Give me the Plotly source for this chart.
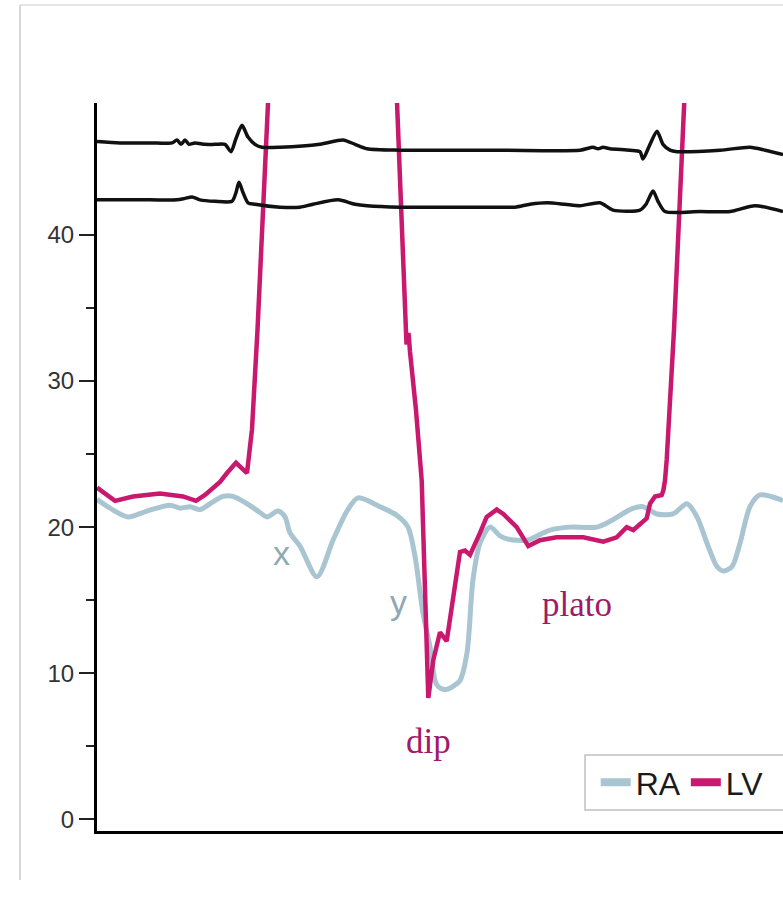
import plotly.graph_objects as go

# ---- data (time in arbitrary units, pressure in mmHg) ----
ra_t = [0, 13, 31, 50, 73, 83, 93, 103, 113, 126, 136, 150, 163, 170, 181, 188, 193, 203,
        220, 236, 250, 261, 283, 300, 311, 318, 326, 333, 338, 341, 346, 350, 360, 363, 370,
        376, 383, 393, 403, 410, 420, 430, 453, 473, 500, 516, 533, 546, 560, 576, 590, 600,
        610, 620, 626, 635, 643, 653, 663, 683, 686]
ra_p = [21.9, 21.3, 20.7, 21.1, 21.5, 21.3, 21.4, 21.2, 21.6, 22.1, 22.1, 21.6, 21.0, 20.7,
        21.1, 20.7, 19.6, 18.7, 16.6, 19.1, 21.1, 22.0, 21.4, 20.8, 20.0, 18.0, 14.1, 11.8,
        9.5, 9.1, 8.9, 8.9, 9.3, 9.5, 11.4, 16.4, 18.9, 20.0, 19.4, 19.2, 19.1, 19.1, 19.8,
        20.0, 20.0, 20.5, 21.2, 21.4, 20.9, 20.9, 21.6, 20.7, 18.9, 17.3, 17.0, 17.3, 18.9,
        21.4, 22.2, 21.9, 21.8]

lv_t = [0, 18, 36, 63, 86, 99, 108, 123, 130, 139, 150, 155, 160.5, 171, 211, 235, 259,
        300, 309.5, 311.5, 313, 319, 324.7, 328, 331.3, 336.3, 343, 349.7, 363, 368, 373,
        383, 389.7, 399.7, 406.3, 419.7, 431.3, 443, 459.7, 486.3, 506.3, 519.7, 529.7,
        536.3, 544.7, 549.7, 553, 558, 564.7, 566.3, 568, 569.7, 577, 587.3, 626, 660, 700]
lv_p = [22.7, 21.8, 22.1, 22.3, 22.1, 21.8, 22.2, 23.1, 23.7, 24.4, 23.7, 26.7, 33.5, 49.1,
        108, 113, 108, 49.1, 32.5, 33.3, 32.0, 28.0, 23.2, 15.7, 8.3, 10.9, 12.8, 12.2,
        18.3, 18.4, 18.1, 19.6, 20.7, 21.2, 20.9, 20.0, 18.7, 19.1, 19.3, 19.3, 19.0, 19.3,
        20.0, 19.8, 20.3, 20.6, 21.6, 22.1, 22.2, 22.5, 23.2, 24.6, 33.5, 49.0, 108, 114, 112]

ecg1_t = [0, 23, 53, 75, 80, 84, 88, 92, 98, 108, 118, 128, 134, 139, 145, 151, 158, 165,
          183, 223, 246, 258, 270, 303, 403, 483, 496, 501, 506, 513, 533, 543, 546, 553,
          560, 566, 573, 580, 623, 653, 668, 686]
ecg1_v = [46.4, 46.3, 46.3, 46.3, 46.5, 46.2, 46.5, 46.2, 46.3, 46.2, 46.2, 46.2, 45.7, 46.6,
          47.5, 46.7, 46.2, 46.0, 46.0, 46.2, 46.5, 46.2, 45.9, 45.8, 45.8, 45.8, 46.0, 45.9,
          46.0, 45.9, 45.8, 45.7, 45.2, 46.2, 47.1, 46.2, 45.8, 45.7, 45.8, 46.0, 45.8, 45.5]

ecg2_t = [0, 53, 80, 88, 95, 103, 118, 135, 139, 142, 146, 151, 158, 183, 203, 216, 241,
          258, 270, 303, 353, 400, 418, 433, 450, 468, 483, 503, 516, 543, 549, 556, 561,
          568, 603, 633, 658, 686]
ecg2_v = [42.4, 42.4, 42.4, 42.5, 42.6, 42.4, 42.3, 42.3, 42.9, 43.6, 42.9, 42.2, 42.1, 41.9,
          41.9, 42.1, 42.4, 42.1, 42.0, 41.9, 41.9, 41.9, 41.9, 42.1, 42.2, 42.1, 42.0, 42.2,
          41.7, 41.7, 42.1, 43.0, 42.3, 41.6, 41.6, 41.6, 42.0, 41.6]

y_ticks = [0, 10, 20, 30, 40]
y_minor = [5, 15, 25, 35]

RA_COLOR = "#a9c5d1"
LV_COLOR = "#c8196f"
TXT_MAG = "#a01a6a"
TXT_BLUE = "#8ea9b4"

fig = go.Figure()
fig.add_trace(go.Scatter(x=ra_t, y=ra_p, mode="lines", name="RA", showlegend=False,
                         line=dict(color=RA_COLOR, width=5, shape="spline", smoothing=0.8)))
fig.add_trace(go.Scatter(x=lv_t, y=lv_p, mode="lines", name="LV", showlegend=False,
                         line=dict(color=LV_COLOR, width=4.5)))
fig.add_trace(go.Scatter(x=ecg1_t, y=ecg1_v, mode="lines", showlegend=False,
                         line=dict(color="#111111", width=3.5, shape="spline", smoothing=0.7)))
fig.add_trace(go.Scatter(x=ecg2_t, y=ecg2_v, mode="lines", showlegend=False,
                         line=dict(color="#111111", width=3.5, shape="spline", smoothing=0.7)))
# legend entries (thicker sample lines)
fig.add_trace(go.Scatter(x=[None], y=[None], mode="lines", name="RA",
                         line=dict(color=RA_COLOR, width=8)))
fig.add_trace(go.Scatter(x=[None], y=[None], mode="lines", name="LV",
                         line=dict(color=LV_COLOR, width=8)))

fig.add_annotation(x=184, y=18.2, text="x", showarrow=False,
                   font=dict(family="Liberation Sans", size=34, color=TXT_BLUE))
fig.add_annotation(x=301, y=14.9, text="y", showarrow=False,
                   font=dict(family="Liberation Sans", size=34, color=TXT_BLUE))
fig.add_annotation(x=480, y=14.7, text="plato", showarrow=False,
                   font=dict(family="Liberation Serif", size=35, color=TXT_MAG))
fig.add_annotation(x=331, y=5.3, text="dip", showarrow=False,
                   font=dict(family="Liberation Serif", size=35, color=TXT_MAG))

# outer frame lines
fig.add_shape(type="line", xref="paper", yref="paper", x0=-0.1122, x1=-0.1122,
              y0=-0.0673, y1=1.1346, line=dict(color="#cccccc", width=1.5))
fig.add_shape(type="line", xref="paper", yref="paper", x0=-0.1122, x1=1.01,
              y0=1.1346, y1=1.1346, line=dict(color="#dddddd", width=1.5))
# legend box
fig.add_shape(type="rect", xref="paper", yref="paper", x0=0.7114, x1=1.03,
              y0=0.0288, y1=0.1044, line=dict(color="#c0c0c0", width=1.5),
              fillcolor="white", layer="above")

fig.update_layout(
    width=783, height=910,
    margin=dict(l=97, r=0, t=103, b=79),
    paper_bgcolor="white", plot_bgcolor="white",
    showlegend=True,
    legend=dict(orientation="h", x=0.727, y=0.0666, xanchor="left", yanchor="middle",
                borderwidth=0, bgcolor="rgba(0,0,0,0)",
                font=dict(family="Liberation Sans", size=32, color="#1a1a1a")),
    xaxis=dict(range=[0, 686], showline=True, linecolor="black", linewidth=3,
               showticklabels=False, ticks="", showgrid=False, zeroline=False),
    yaxis=dict(range=[-0.8, 49.03], showline=True, linecolor="black", linewidth=3,
               tickmode="array", tickvals=y_ticks, ticks="outside", ticklen=15,
               tickwidth=2, tickcolor="#222222",
               tickfont=dict(family="Liberation Sans", size=24, color="#333333"),
               minor=dict(tickmode="array", tickvals=y_minor, ticks="outside", ticklen=8,
                          tickwidth=2, tickcolor="#222222", showgrid=False),
               showgrid=False, zeroline=False),
)

fig.write_html("out.html", config={"displayModeBar": False})
